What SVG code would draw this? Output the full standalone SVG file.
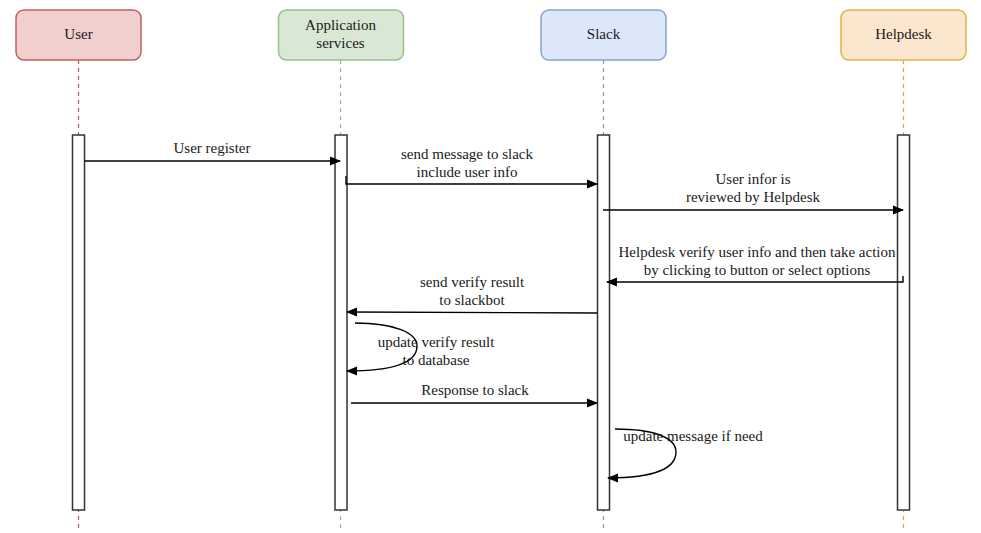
<svg xmlns="http://www.w3.org/2000/svg" width="981" height="533" viewBox="0 0 981 533">
<style>
text{font-family:"Liberation Serif","Times New Roman",serif;font-size:15px;fill:#1a1a1a;text-anchor:middle;}
.hd{stroke-width:1.5;}
.life{fill:none;stroke-width:1.2;stroke-dasharray:4 4;}
.act{fill:#fff;stroke:#333;stroke-width:1.5;}
.msg{fill:none;stroke:#000;stroke-width:1.4;marker-end:url(#ah);}
</style>
<defs>
<marker id="ah" markerWidth="12" markerHeight="10" refX="10" refY="5" orient="auto" markerUnits="userSpaceOnUse">
<path d="M0,0.5 L11,5 L0,9.5 Z" fill="#000"/>
</marker>
</defs>
<rect width="981" height="533" fill="#fff"/>

<g id="user">
<line class="life" x1="78.5" y1="60" x2="78.5" y2="530" stroke="#b85450"/>
<rect class="hd" x="16" y="10" width="125" height="50" rx="8" fill="#f1cfce" stroke="#c0605c"/>
<text x="78.5" y="39">User</text>
<rect class="act" x="72.5" y="135" width="12" height="375"/>
</g>

<g id="app">
<line class="life" x1="340.5" y1="60" x2="340.5" y2="530" stroke="#97c08a"/>
<rect class="hd" x="278.5" y="10" width="125" height="50" rx="8" fill="#d9e8d5" stroke="#97c08a"/>
<text x="340.5" y="30">Application</text>
<text x="340.5" y="48">services</text>
<rect class="act" x="335" y="135" width="12" height="375"/>
</g>

<g id="slack">
<line class="life" x1="603.5" y1="60" x2="603.5" y2="530" stroke="#7d97c4"/>
<rect class="hd" x="541" y="10" width="125" height="50" rx="8" fill="#dce7f9" stroke="#87a3cf"/>
<text x="603.5" y="39">Slack</text>
<rect class="act" x="597.5" y="135" width="12" height="375"/>
</g>

<g id="helpdesk">
<line class="life" x1="903.5" y1="60" x2="903.5" y2="530" stroke="#d9a640"/>
<rect class="hd" x="841" y="10" width="125" height="50" rx="8" fill="#fae7cd" stroke="#e0b247"/>
<text x="903.5" y="39">Helpdesk</text>
<rect class="act" x="897.5" y="135" width="12" height="375"/>
</g>

<g id="connectors">
<path class="msg" d="M84.5,161 L340,161"/>
<text x="212" y="153">User register</text>

<path class="msg" d="M346,176 L346,184 L597,184"/>
<text x="467" y="159">send message to slack</text>
<text x="467" y="177">include user info</text>

<path class="msg" d="M603,210 L903,210"/>
<text x="753" y="184">User infor is</text>
<text x="753" y="202">reviewed by Helpdesk</text>

<path class="msg" d="M903,276 L903,282 L607,282"/>
<text x="757" y="257">Helpdesk verify user info and then take action</text>
<text x="757" y="275">by clicking to button or select options</text>

<path class="msg" d="M597,313 L347,312"/>
<text x="472" y="287">send verify result</text>
<text x="472" y="305">to slackbot</text>

<path class="msg" d="M355,323 C395,323 417,333 417,346 C417,362 395,371 347,371"/>
<text x="436" y="347">update verify result</text>
<text x="436" y="365">to database</text>

<path class="msg" d="M351,403 L597,403"/>
<text x="475" y="395">Response to slack</text>

<path class="msg" d="M615,429 C655,429 676,438 676,452 C676,468 655,478 608,478"/>
<text x="693" y="441">update message if need</text>
</g>
</svg>
